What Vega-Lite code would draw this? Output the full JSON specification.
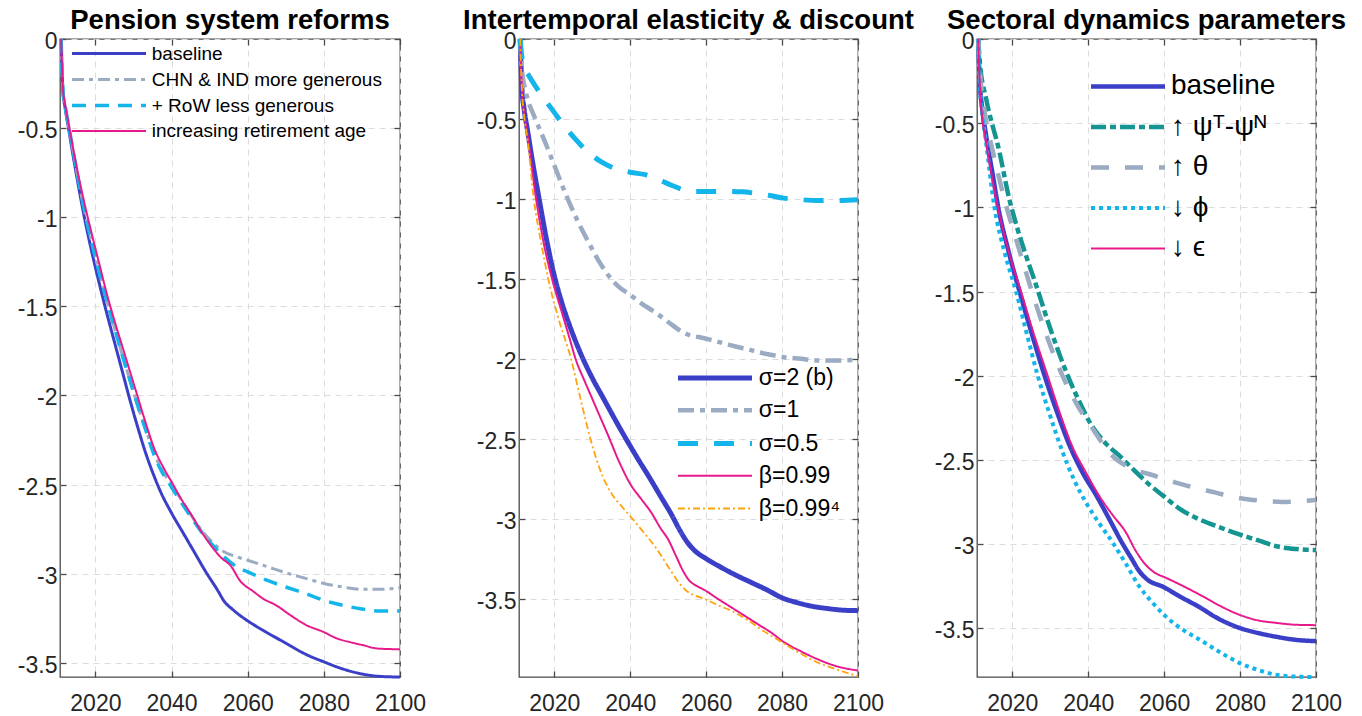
{
  "$schema": "https://vega.github.io/schema/vega-lite/v6.json",
  "background": "white",
  "padding": {"left": 16, "top": 5, "right": 5, "bottom": 5},
  "bounds": "flush",
  "spacing": 119,
  "resolve": {
    "scale": {"color": "independent", "strokeDash": "independent", "strokeWidth": "independent"},
    "legend": {"color": "independent", "strokeDash": "independent", "strokeWidth": "independent"}
  },
  "config": {
    "font": "Liberation Sans",
    "view": {"stroke": "#4a4a4a", "strokeWidth": 1.3},
    "title": {"fontSize": 27.5, "fontWeight": "bold", "color": "#000000", "offset": -3.5, "frame": "group", "anchor": "middle"},
    "axis": {
      "title": null,
      "domain": false,
      "labelFontSize": 23,
      "labelColor": "#262626",
      "labelFlush": false,
      "labelOverlap": false,
      "labelBound": false,
      "tickColor": "#4a4a4a",
      "tickWidth": 1.3,
      "tickSize": -6,
      "gridColor": "#dcdcdc",
      "gridDash": [6, 5],
      "gridWidth": 1
    },
    "axisLeft": {"labelOffset": 2.5},
    "legend": {
      "title": null,
      "orient": "none",
      "padding": 0,
      "symbolType": "M-4,0H4",
      "symbolSize": 342.25,
      "labelOffset": 31.75,
      "labelLimit": 500,
      "labelColor": "#000000",
      "symbolStrokeColor": "#000000"
    },
    "line": {"strokeCap": "butt", "strokeJoin": "round", "clip": true, "interpolate": "monotone"}
  },
  "datasets": {
    "p1": [
      {"s":"baseline","year":2011,"v":0},{"s":"baseline","year":2011.5,"v":-0.30},{"s":"baseline","year":2012,"v":-0.38},{"s":"baseline","year":2013,"v":-0.51},{"s":"baseline","year":2015,"v":-0.76},{"s":"baseline","year":2017,"v":-0.99},{"s":"baseline","year":2019,"v":-1.19},{"s":"baseline","year":2021,"v":-1.37},{"s":"baseline","year":2023,"v":-1.54},{"s":"baseline","year":2025,"v":-1.70},{"s":"baseline","year":2027,"v":-1.86},{"s":"baseline","year":2029,"v":-2.02},{"s":"baseline","year":2031,"v":-2.17},{"s":"baseline","year":2033,"v":-2.31},{"s":"baseline","year":2035,"v":-2.43},{"s":"baseline","year":2037,"v":-2.535},{"s":"baseline","year":2040,"v":-2.66},{"s":"baseline","year":2043,"v":-2.77},{"s":"baseline","year":2046,"v":-2.88},{"s":"baseline","year":2049,"v":-2.99},{"s":"baseline","year":2052,"v":-3.09},{"s":"baseline","year":2054,"v":-3.16},{"s":"baseline","year":2056,"v":-3.20},{"s":"baseline","year":2058,"v":-3.235},{"s":"baseline","year":2060,"v":-3.265},{"s":"baseline","year":2065,"v":-3.33},{"s":"baseline","year":2070,"v":-3.39},{"s":"baseline","year":2075,"v":-3.45},{"s":"baseline","year":2080,"v":-3.495},{"s":"baseline","year":2085,"v":-3.535},{"s":"baseline","year":2090,"v":-3.563},{"s":"baseline","year":2095,"v":-3.577},{"s":"baseline","year":2100,"v":-3.58},
      {"s":"CHN & IND more generous","year":2011,"v":0},{"s":"CHN & IND more generous","year":2011.5,"v":-0.30},{"s":"CHN & IND more generous","year":2012,"v":-0.37},{"s":"CHN & IND more generous","year":2013,"v":-0.49},{"s":"CHN & IND more generous","year":2015,"v":-0.73},{"s":"CHN & IND more generous","year":2017,"v":-0.95},{"s":"CHN & IND more generous","year":2019,"v":-1.14},{"s":"CHN & IND more generous","year":2021,"v":-1.31},{"s":"CHN & IND more generous","year":2023,"v":-1.47},{"s":"CHN & IND more generous","year":2025,"v":-1.62},{"s":"CHN & IND more generous","year":2027,"v":-1.77},{"s":"CHN & IND more generous","year":2029,"v":-1.91},{"s":"CHN & IND more generous","year":2031,"v":-2.05},{"s":"CHN & IND more generous","year":2033,"v":-2.18},{"s":"CHN & IND more generous","year":2035,"v":-2.30},{"s":"CHN & IND more generous","year":2037,"v":-2.40},{"s":"CHN & IND more generous","year":2040,"v":-2.50},{"s":"CHN & IND more generous","year":2043,"v":-2.60},{"s":"CHN & IND more generous","year":2046,"v":-2.70},{"s":"CHN & IND more generous","year":2048,"v":-2.76},{"s":"CHN & IND more generous","year":2051,"v":-2.83},{"s":"CHN & IND more generous","year":2054,"v":-2.88},{"s":"CHN & IND more generous","year":2057,"v":-2.905},{"s":"CHN & IND more generous","year":2060,"v":-2.925},{"s":"CHN & IND more generous","year":2065,"v":-2.96},{"s":"CHN & IND more generous","year":2070,"v":-2.995},{"s":"CHN & IND more generous","year":2075,"v":-3.025},{"s":"CHN & IND more generous","year":2080,"v":-3.055},{"s":"CHN & IND more generous","year":2085,"v":-3.075},{"s":"CHN & IND more generous","year":2090,"v":-3.088},{"s":"CHN & IND more generous","year":2095,"v":-3.088},{"s":"CHN & IND more generous","year":2100,"v":-3.078},
      {"s":"+ RoW less generous","year":2011,"v":0},{"s":"+ RoW less generous","year":2011.5,"v":-0.30},{"s":"+ RoW less generous","year":2012,"v":-0.37},{"s":"+ RoW less generous","year":2013,"v":-0.49},{"s":"+ RoW less generous","year":2015,"v":-0.73},{"s":"+ RoW less generous","year":2017,"v":-0.95},{"s":"+ RoW less generous","year":2019,"v":-1.14},{"s":"+ RoW less generous","year":2021,"v":-1.31},{"s":"+ RoW less generous","year":2023,"v":-1.47},{"s":"+ RoW less generous","year":2025,"v":-1.62},{"s":"+ RoW less generous","year":2027,"v":-1.77},{"s":"+ RoW less generous","year":2029,"v":-1.91},{"s":"+ RoW less generous","year":2031,"v":-2.05},{"s":"+ RoW less generous","year":2033,"v":-2.18},{"s":"+ RoW less generous","year":2035,"v":-2.31},{"s":"+ RoW less generous","year":2037,"v":-2.41},{"s":"+ RoW less generous","year":2040,"v":-2.515},{"s":"+ RoW less generous","year":2043,"v":-2.615},{"s":"+ RoW less generous","year":2046,"v":-2.71},{"s":"+ RoW less generous","year":2048,"v":-2.77},{"s":"+ RoW less generous","year":2051,"v":-2.845},{"s":"+ RoW less generous","year":2054,"v":-2.91},{"s":"+ RoW less generous","year":2057,"v":-2.96},{"s":"+ RoW less generous","year":2060,"v":-2.99},{"s":"+ RoW less generous","year":2065,"v":-3.037},{"s":"+ RoW less generous","year":2070,"v":-3.075},{"s":"+ RoW less generous","year":2075,"v":-3.11},{"s":"+ RoW less generous","year":2080,"v":-3.15},{"s":"+ RoW less generous","year":2085,"v":-3.178},{"s":"+ RoW less generous","year":2090,"v":-3.198},{"s":"+ RoW less generous","year":2095,"v":-3.21},{"s":"+ RoW less generous","year":2100,"v":-3.21},
      {"s":"increasing retirement age","year":2011,"v":0},{"s":"increasing retirement age","year":2011.5,"v":-0.29},{"s":"increasing retirement age","year":2012,"v":-0.36},{"s":"increasing retirement age","year":2013,"v":-0.48},{"s":"increasing retirement age","year":2015,"v":-0.71},{"s":"increasing retirement age","year":2017,"v":-0.91},{"s":"increasing retirement age","year":2019,"v":-1.09},{"s":"increasing retirement age","year":2021,"v":-1.26},{"s":"increasing retirement age","year":2023,"v":-1.43},{"s":"increasing retirement age","year":2025,"v":-1.58},{"s":"increasing retirement age","year":2027,"v":-1.72},{"s":"increasing retirement age","year":2029,"v":-1.86},{"s":"increasing retirement age","year":2031,"v":-2.0},{"s":"increasing retirement age","year":2033,"v":-2.14},{"s":"increasing retirement age","year":2035.5,"v":-2.30},{"s":"increasing retirement age","year":2038,"v":-2.41},{"s":"increasing retirement age","year":2040,"v":-2.485},{"s":"increasing retirement age","year":2042.5,"v":-2.58},{"s":"increasing retirement age","year":2045,"v":-2.663},{"s":"increasing retirement age","year":2048,"v":-2.77},{"s":"increasing retirement age","year":2051,"v":-2.86},{"s":"increasing retirement age","year":2053,"v":-2.91},{"s":"increasing retirement age","year":2055.5,"v":-2.955},{"s":"increasing retirement age","year":2058,"v":-3.04},{"s":"increasing retirement age","year":2061.5,"v":-3.10},{"s":"increasing retirement age","year":2064,"v":-3.14},{"s":"increasing retirement age","year":2067.5,"v":-3.178},{"s":"increasing retirement age","year":2071,"v":-3.23},{"s":"increasing retirement age","year":2075.5,"v":-3.29},{"s":"increasing retirement age","year":2080,"v":-3.328},{"s":"increasing retirement age","year":2083,"v":-3.36},{"s":"increasing retirement age","year":2087,"v":-3.385},{"s":"increasing retirement age","year":2090,"v":-3.40},{"s":"increasing retirement age","year":2094,"v":-3.42},{"s":"increasing retirement age","year":2097,"v":-3.423},{"s":"increasing retirement age","year":2100,"v":-3.425}
    ],
    "p2": [
      {"s":"σ=2 (b)","year":2011,"v":0},{"s":"σ=2 (b)","year":2011.5,"v":-0.32},{"s":"σ=2 (b)","year":2012,"v":-0.43},{"s":"σ=2 (b)","year":2013,"v":-0.58},{"s":"σ=2 (b)","year":2014.5,"v":-0.80},{"s":"σ=2 (b)","year":2016,"v":-1.0},{"s":"σ=2 (b)","year":2018,"v":-1.26},{"s":"σ=2 (b)","year":2020,"v":-1.48},{"s":"σ=2 (b)","year":2022,"v":-1.65},{"s":"σ=2 (b)","year":2024,"v":-1.79},{"s":"σ=2 (b)","year":2027,"v":-1.97},{"s":"σ=2 (b)","year":2030,"v":-2.12},{"s":"σ=2 (b)","year":2033,"v":-2.25},{"s":"σ=2 (b)","year":2036,"v":-2.38},{"s":"σ=2 (b)","year":2039,"v":-2.505},{"s":"σ=2 (b)","year":2042,"v":-2.625},{"s":"σ=2 (b)","year":2045,"v":-2.74},{"s":"σ=2 (b)","year":2048,"v":-2.86},{"s":"σ=2 (b)","year":2051,"v":-2.98},{"s":"σ=2 (b)","year":2053,"v":-3.07},{"s":"σ=2 (b)","year":2055,"v":-3.146},{"s":"σ=2 (b)","year":2057,"v":-3.20},{"s":"σ=2 (b)","year":2060,"v":-3.25},{"s":"σ=2 (b)","year":2064,"v":-3.305},{"s":"σ=2 (b)","year":2068,"v":-3.355},{"s":"σ=2 (b)","year":2072,"v":-3.40},{"s":"σ=2 (b)","year":2076,"v":-3.445},{"s":"σ=2 (b)","year":2080,"v":-3.495},{"s":"σ=2 (b)","year":2084,"v":-3.525},{"s":"σ=2 (b)","year":2088,"v":-3.548},{"s":"σ=2 (b)","year":2092,"v":-3.562},{"s":"σ=2 (b)","year":2096,"v":-3.572},{"s":"σ=2 (b)","year":2100,"v":-3.575},
      {"s":"σ=1","year":2011,"v":0},{"s":"σ=1","year":2011.5,"v":-0.20},{"s":"σ=1","year":2012.5,"v":-0.33},{"s":"σ=1","year":2015,"v":-0.50},{"s":"σ=1","year":2017.5,"v":-0.64},{"s":"σ=1","year":2020,"v":-0.79},{"s":"σ=1","year":2023,"v":-0.97},{"s":"σ=1","year":2026,"v":-1.13},{"s":"σ=1","year":2029,"v":-1.27},{"s":"σ=1","year":2031.5,"v":-1.38},{"s":"σ=1","year":2034.3,"v":-1.48},{"s":"σ=1","year":2037,"v":-1.55},{"s":"σ=1","year":2040,"v":-1.60},{"s":"σ=1","year":2043,"v":-1.655},{"s":"σ=1","year":2046.6,"v":-1.71},{"s":"σ=1","year":2050,"v":-1.77},{"s":"σ=1","year":2053.6,"v":-1.83},{"s":"σ=1","year":2056,"v":-1.855},{"s":"σ=1","year":2058,"v":-1.864},{"s":"σ=1","year":2061,"v":-1.88},{"s":"σ=1","year":2065,"v":-1.906},{"s":"σ=1","year":2068,"v":-1.925},{"s":"σ=1","year":2071,"v":-1.94},{"s":"σ=1","year":2074,"v":-1.96},{"s":"σ=1","year":2077,"v":-1.975},{"s":"σ=1","year":2080.5,"v":-1.99},{"s":"σ=1","year":2085,"v":-2.0},{"s":"σ=1","year":2089,"v":-2.01},{"s":"σ=1","year":2095,"v":-2.01},{"s":"σ=1","year":2100,"v":-2.005},
      {"s":"σ=0.5","year":2011,"v":0},{"s":"σ=0.5","year":2011.5,"v":-0.12},{"s":"σ=0.5","year":2012.3,"v":-0.19},{"s":"σ=0.5","year":2013.3,"v":-0.23},{"s":"σ=0.5","year":2016,"v":-0.33},{"s":"σ=0.5","year":2019.4,"v":-0.44},{"s":"σ=0.5","year":2022.5,"v":-0.54},{"s":"σ=0.5","year":2025.5,"v":-0.625},{"s":"σ=0.5","year":2029,"v":-0.71},{"s":"σ=0.5","year":2032.5,"v":-0.77},{"s":"σ=0.5","year":2036,"v":-0.81},{"s":"σ=0.5","year":2040,"v":-0.833},{"s":"σ=0.5","year":2044.9,"v":-0.854},{"s":"σ=0.5","year":2048,"v":-0.885},{"s":"σ=0.5","year":2051,"v":-0.916},{"s":"σ=0.5","year":2053.5,"v":-0.94},{"s":"σ=0.5","year":2055.4,"v":-0.954},{"s":"σ=0.5","year":2060,"v":-0.954},{"s":"σ=0.5","year":2065,"v":-0.953},{"s":"σ=0.5","year":2069.4,"v":-0.956},{"s":"σ=0.5","year":2073,"v":-0.965},{"s":"σ=0.5","year":2076.9,"v":-0.979},{"s":"σ=0.5","year":2080.4,"v":-0.995},{"s":"σ=0.5","year":2085,"v":-1.005},{"s":"σ=0.5","year":2089.2,"v":-1.01},{"s":"σ=0.5","year":2095,"v":-1.01},{"s":"σ=0.5","year":2100,"v":-1.005},
      {"s":"β=0.99","year":2011,"v":0},{"s":"β=0.99","year":2011.5,"v":-0.33},{"s":"β=0.99","year":2012,"v":-0.45},{"s":"β=0.99","year":2013,"v":-0.61},{"s":"β=0.99","year":2015.2,"v":-1.0},{"s":"β=0.99","year":2017,"v":-1.25},{"s":"β=0.99","year":2019.4,"v":-1.5},{"s":"β=0.99","year":2022,"v":-1.71},{"s":"β=0.99","year":2024,"v":-1.87},{"s":"β=0.99","year":2025.6,"v":-2.0},{"s":"β=0.99","year":2028,"v":-2.14},{"s":"β=0.99","year":2030,"v":-2.25},{"s":"β=0.99","year":2032,"v":-2.36},{"s":"β=0.99","year":2034.2,"v":-2.48},{"s":"β=0.99","year":2037,"v":-2.64},{"s":"β=0.99","year":2040.2,"v":-2.79},{"s":"β=0.99","year":2043,"v":-2.88},{"s":"β=0.99","year":2045.5,"v":-2.96},{"s":"β=0.99","year":2048,"v":-3.06},{"s":"β=0.99","year":2050,"v":-3.13},{"s":"β=0.99","year":2052,"v":-3.23},{"s":"β=0.99","year":2054,"v":-3.33},{"s":"β=0.99","year":2055.5,"v":-3.385},{"s":"β=0.99","year":2057.5,"v":-3.42},{"s":"β=0.99","year":2059.5,"v":-3.445},{"s":"β=0.99","year":2063,"v":-3.50},{"s":"β=0.99","year":2067,"v":-3.56},{"s":"β=0.99","year":2071,"v":-3.62},{"s":"β=0.99","year":2074.3,"v":-3.67},{"s":"β=0.99","year":2077,"v":-3.71},{"s":"β=0.99","year":2080.4,"v":-3.77},{"s":"β=0.99","year":2085,"v":-3.83},{"s":"β=0.99","year":2089,"v":-3.875},{"s":"β=0.99","year":2094,"v":-3.92},{"s":"β=0.99","year":2100,"v":-3.95},
      {"s":"β=0.99⁴","year":2011,"v":0},{"s":"β=0.99⁴","year":2011.5,"v":-0.34},{"s":"β=0.99⁴","year":2012,"v":-0.47},{"s":"β=0.99⁴","year":2013,"v":-0.64},{"s":"β=0.99⁴","year":2014.6,"v":-1.0},{"s":"β=0.99⁴","year":2016.5,"v":-1.27},{"s":"β=0.99⁴","year":2018.4,"v":-1.5},{"s":"β=0.99⁴","year":2021,"v":-1.74},{"s":"β=0.99⁴","year":2024.4,"v":-2.0},{"s":"β=0.99⁴","year":2027,"v":-2.26},{"s":"β=0.99⁴","year":2029.5,"v":-2.5},{"s":"β=0.99⁴","year":2032,"v":-2.69},{"s":"β=0.99⁴","year":2035,"v":-2.84},{"s":"β=0.99⁴","year":2038,"v":-2.93},{"s":"β=0.99⁴","year":2040.2,"v":-2.99},{"s":"β=0.99⁴","year":2043,"v":-3.07},{"s":"β=0.99⁴","year":2047,"v":-3.19},{"s":"β=0.99⁴","year":2050,"v":-3.30},{"s":"β=0.99⁴","year":2052.5,"v":-3.39},{"s":"β=0.99⁴","year":2054.5,"v":-3.445},{"s":"β=0.99⁴","year":2057,"v":-3.48},{"s":"β=0.99⁴","year":2059.5,"v":-3.50},{"s":"β=0.99⁴","year":2063,"v":-3.54},{"s":"β=0.99⁴","year":2067,"v":-3.58},{"s":"β=0.99⁴","year":2071,"v":-3.635},{"s":"β=0.99⁴","year":2074.3,"v":-3.69},{"s":"β=0.99⁴","year":2077,"v":-3.73},{"s":"β=0.99⁴","year":2080.4,"v":-3.78},{"s":"β=0.99⁴","year":2085,"v":-3.845},{"s":"β=0.99⁴","year":2089,"v":-3.896},{"s":"β=0.99⁴","year":2094,"v":-3.94},{"s":"β=0.99⁴","year":2100,"v":-3.985}
    ],
    "p3": [
      {"s":"baseline","year":2011,"v":0},{"s":"baseline","year":2011.5,"v":-0.28},{"s":"baseline","year":2012,"v":-0.40},{"s":"baseline","year":2013,"v":-0.56},{"s":"baseline","year":2014.8,"v":-0.80},{"s":"baseline","year":2016.3,"v":-1.0},{"s":"baseline","year":2019,"v":-1.26},{"s":"baseline","year":2021.9,"v":-1.5},{"s":"baseline","year":2025,"v":-1.74},{"s":"baseline","year":2028.5,"v":-2.0},{"s":"baseline","year":2032,"v":-2.23},{"s":"baseline","year":2035,"v":-2.41},{"s":"baseline","year":2038.5,"v":-2.575},{"s":"baseline","year":2042.2,"v":-2.714},{"s":"baseline","year":2045.5,"v":-2.85},{"s":"baseline","year":2049,"v":-2.996},{"s":"baseline","year":2051.5,"v":-3.09},{"s":"baseline","year":2053.4,"v":-3.16},{"s":"baseline","year":2055.5,"v":-3.21},{"s":"baseline","year":2059.8,"v":-3.255},{"s":"baseline","year":2064,"v":-3.31},{"s":"baseline","year":2069.3,"v":-3.375},{"s":"baseline","year":2074,"v":-3.44},{"s":"baseline","year":2079.8,"v":-3.498},{"s":"baseline","year":2085,"v":-3.53},{"s":"baseline","year":2089.3,"v":-3.55},{"s":"baseline","year":2095,"v":-3.57},{"s":"baseline","year":2100,"v":-3.577},
      {"s":"↑ ψᵀ-ψᴺ","year":2011,"v":0},{"s":"↑ ψᵀ-ψᴺ","year":2011.5,"v":-0.15},{"s":"↑ ψᵀ-ψᴺ","year":2013.1,"v":-0.354},{"s":"↑ ψᵀ-ψᴺ","year":2016.6,"v":-0.67},{"s":"↑ ψᵀ-ψᴺ","year":2019.2,"v":-0.95},{"s":"↑ ψᵀ-ψᴺ","year":2021,"v":-1.10},{"s":"↑ ψᵀ-ψᴺ","year":2023.5,"v":-1.28},{"s":"↑ ψᵀ-ψᴺ","year":2025.8,"v":-1.43},{"s":"↑ ψᵀ-ψᴺ","year":2030,"v":-1.72},{"s":"↑ ψᵀ-ψᴺ","year":2034.6,"v":-2.0},{"s":"↑ ψᵀ-ψᴺ","year":2038,"v":-2.17},{"s":"↑ ψᵀ-ψᴺ","year":2041,"v":-2.30},{"s":"↑ ψᵀ-ψᴺ","year":2044.5,"v":-2.40},{"s":"↑ ψᵀ-ψᴺ","year":2048.4,"v":-2.48},{"s":"↑ ψᵀ-ψᴺ","year":2053.4,"v":-2.59},{"s":"↑ ψᵀ-ψᴺ","year":2056.5,"v":-2.655},{"s":"↑ ψᵀ-ψᴺ","year":2059.8,"v":-2.714},{"s":"↑ ψᵀ-ψᴺ","year":2064,"v":-2.79},{"s":"↑ ψᵀ-ψᴺ","year":2069.3,"v":-2.854},{"s":"↑ ψᵀ-ψᴺ","year":2074.5,"v":-2.90},{"s":"↑ ψᵀ-ψᴺ","year":2079.8,"v":-2.943},{"s":"↑ ψᵀ-ψᴺ","year":2085,"v":-2.98},{"s":"↑ ψᵀ-ψᴺ","year":2089.3,"v":-3.012},{"s":"↑ ψᵀ-ψᴺ","year":2095,"v":-3.03},{"s":"↑ ψᵀ-ψᴺ","year":2100,"v":-3.036},
      {"s":"↑ θ","year":2011,"v":0},{"s":"↑ θ","year":2011.5,"v":-0.2},{"s":"↑ θ","year":2012.7,"v":-0.43},{"s":"↑ θ","year":2015,"v":-0.68},{"s":"↑ θ","year":2018.5,"v":-1.0},{"s":"↑ θ","year":2021,"v":-1.19},{"s":"↑ θ","year":2023.8,"v":-1.4},{"s":"↑ θ","year":2026,"v":-1.56},{"s":"↑ θ","year":2029,"v":-1.76},{"s":"↑ θ","year":2033.2,"v":-2.0},{"s":"↑ θ","year":2037,"v":-2.17},{"s":"↑ θ","year":2041,"v":-2.31},{"s":"↑ θ","year":2044,"v":-2.41},{"s":"↑ θ","year":2047,"v":-2.49},{"s":"↑ θ","year":2050,"v":-2.535},{"s":"↑ θ","year":2053,"v":-2.565},{"s":"↑ θ","year":2056.9,"v":-2.59},{"s":"↑ θ","year":2060,"v":-2.615},{"s":"↑ θ","year":2063.1,"v":-2.635},{"s":"↑ θ","year":2068,"v":-2.665},{"s":"↑ θ","year":2073.6,"v":-2.695},{"s":"↑ θ","year":2078,"v":-2.72},{"s":"↑ θ","year":2082.3,"v":-2.735},{"s":"↑ θ","year":2087,"v":-2.745},{"s":"↑ θ","year":2091,"v":-2.75},{"s":"↑ θ","year":2096,"v":-2.745},{"s":"↑ θ","year":2100,"v":-2.738},
      {"s":"↓ ϕ","year":2011,"v":0},{"s":"↓ ϕ","year":2011.5,"v":-0.30},{"s":"↓ ϕ","year":2012,"v":-0.43},{"s":"↓ ϕ","year":2013,"v":-0.60},{"s":"↓ ϕ","year":2015.3,"v":-1.0},{"s":"↓ ϕ","year":2018,"v":-1.27},{"s":"↓ ϕ","year":2021,"v":-1.5},{"s":"↓ ϕ","year":2023.8,"v":-1.75},{"s":"↓ ϕ","year":2026.7,"v":-2.0},{"s":"↓ ϕ","year":2030,"v":-2.24},{"s":"↓ ϕ","year":2033.3,"v":-2.457},{"s":"↓ ϕ","year":2036.3,"v":-2.62},{"s":"↓ ϕ","year":2039.4,"v":-2.754},{"s":"↓ ϕ","year":2043,"v":-2.88},{"s":"↓ ϕ","year":2046.4,"v":-2.99},{"s":"↓ ϕ","year":2050,"v":-3.12},{"s":"↓ ϕ","year":2053.4,"v":-3.25},{"s":"↓ ϕ","year":2057,"v":-3.35},{"s":"↓ ϕ","year":2060.4,"v":-3.43},{"s":"↓ ϕ","year":2065,"v":-3.51},{"s":"↓ ϕ","year":2069.3,"v":-3.567},{"s":"↓ ϕ","year":2074.5,"v":-3.64},{"s":"↓ ϕ","year":2079.8,"v":-3.706},{"s":"↓ ϕ","year":2085,"v":-3.75},{"s":"↓ ϕ","year":2089.3,"v":-3.776},{"s":"↓ ϕ","year":2095,"v":-3.788},{"s":"↓ ϕ","year":2100,"v":-3.79},
      {"s":"↓ ϵ","year":2011,"v":0},{"s":"↓ ϵ","year":2011.5,"v":-0.30},{"s":"↓ ϵ","year":2012,"v":-0.45},{"s":"↓ ϵ","year":2013,"v":-0.60},{"s":"↓ ϵ","year":2014.8,"v":-0.84},{"s":"↓ ϵ","year":2016.2,"v":-1.0},{"s":"↓ ϵ","year":2019,"v":-1.26},{"s":"↓ ϵ","year":2022.3,"v":-1.5},{"s":"↓ ϵ","year":2025.5,"v":-1.74},{"s":"↓ ϵ","year":2029.3,"v":-2.0},{"s":"↓ ϵ","year":2032.5,"v":-2.22},{"s":"↓ ϵ","year":2035.8,"v":-2.42},{"s":"↓ ϵ","year":2039.5,"v":-2.58},{"s":"↓ ϵ","year":2042.9,"v":-2.714},{"s":"↓ ϵ","year":2046.5,"v":-2.83},{"s":"↓ ϵ","year":2049.9,"v":-2.93},{"s":"↓ ϵ","year":2052.5,"v":-3.04},{"s":"↓ ϵ","year":2055.2,"v":-3.125},{"s":"↓ ϵ","year":2057.5,"v":-3.17},{"s":"↓ ϵ","year":2060.4,"v":-3.20},{"s":"↓ ϵ","year":2065,"v":-3.25},{"s":"↓ ϵ","year":2069.3,"v":-3.30},{"s":"↓ ϵ","year":2074.5,"v":-3.365},{"s":"↓ ϵ","year":2079.8,"v":-3.42},{"s":"↓ ϵ","year":2085,"v":-3.455},{"s":"↓ ϵ","year":2089.3,"v":-3.468},{"s":"↓ ϵ","year":2095,"v":-3.48},{"s":"↓ ϵ","year":2100,"v":-3.482}
    ]
  },
  "hconcat": [
    {
      "title": "Pension system reforms",
      "width": 340, "height": 638,
      "data": {"name": "p1"},
      "layer": [
        {
          "mark": {"type": "line"},
          "encoding": {
            "x": {"field": "year", "type": "quantitative", "scale": {"domain": [2010.7, 2100], "nice": false, "zero": false},
                  "axis": {"orient": "bottom", "values": [2020, 2040, 2060, 2080, 2100], "format": "d", "grid": true, "labelPadding": 21}},
            "y": {"field": "v", "type": "quantitative", "scale": {"domain": [-3.58, 0], "nice": false, "zero": false},
                  "axis": {"orient": "left", "values": [0, -0.5, -1, -1.5, -2, -2.5, -3, -3.5], "labelExpr": "'' + datum.value", "labelFlush": false, "grid": true, "labelPadding": 9}},
            "color": {"field": "s", "type": "nominal",
                      "scale": {"domain": ["baseline", "CHN & IND more generous", "+ RoW less generous", "increasing retirement age"], "range": ["#3b3fc8", "#9babc2", "#14b5ea", "#e8198b"]},
                      "legend": {"legendX": 38, "legendY": 3.5, "labelFontSize": 19, "rowPadding": 5}},
            "strokeDash": {"field": "s", "type": "nominal",
                           "scale": {"domain": ["baseline", "CHN & IND more generous", "+ RoW less generous", "increasing retirement age"], "range": [[1, 0], [12, 5, 4, 5], [14, 9], [1, 0]]}},
            "strokeWidth": {"field": "s", "type": "nominal",
                            "scale": {"type": "ordinal", "domain": ["baseline", "CHN & IND more generous", "+ RoW less generous", "increasing retirement age"], "range": [3, 3, 3.5, 2]}}
          }
        },
        {
          "mark": {"type": "point", "opacity": 0},
          "encoding": {
            "x": {"field": "year", "type": "quantitative", "axis": {"orient": "top", "values": [2020, 2040, 2060, 2080, 2100], "labels": false, "grid": false}},
            "y": {"field": "v", "type": "quantitative", "axis": {"orient": "right", "values": [0, -0.5, -1, -1.5, -2, -2.5, -3, -3.5], "labels": false, "grid": false}}
          }
        }
      ],
      "resolve": {"axis": {"x": "independent", "y": "independent"}}
    },
    {
      "title": "Intertemporal elasticity & discount",
      "width": 339, "height": 638,
      "data": {"name": "p2"},
      "layer": [
        {
          "mark": {"type": "line"},
          "encoding": {
            "x": {"field": "year", "type": "quantitative", "scale": {"domain": [2010.7, 2100], "nice": false, "zero": false},
                  "axis": {"orient": "bottom", "values": [2020, 2040, 2060, 2080, 2100], "format": "d", "grid": true, "labelPadding": 21}},
            "y": {"field": "v", "type": "quantitative", "scale": {"domain": [-3.99, 0], "nice": false, "zero": false},
                  "axis": {"orient": "left", "values": [0, -0.5, -1, -1.5, -2, -2.5, -3, -3.5], "labelExpr": "'' + datum.value", "labelFlush": false, "grid": true, "labelPadding": 9}},
            "color": {"field": "s", "type": "nominal",
                      "scale": {"domain": ["σ=2 (b)", "σ=1", "σ=0.5", "β=0.99", "β=0.99⁴"], "range": ["#3b3fc8", "#9babc2", "#14b5ea", "#e8198b", "#fda50f"]},
                      "legend": {"legendX": 184, "legendY": 327, "labelFontSize": 23, "rowPadding": 8.75}},
            "strokeDash": {"field": "s", "type": "nominal",
                           "scale": {"domain": ["σ=2 (b)", "σ=1", "σ=0.5", "β=0.99", "β=0.99⁴"], "range": [[1, 0], [16, 6, 5, 6], [20, 16], [1, 0], [7, 3, 2, 3]]}},
            "strokeWidth": {"field": "s", "type": "nominal",
                            "scale": {"type": "ordinal", "domain": ["σ=2 (b)", "σ=1", "σ=0.5", "β=0.99", "β=0.99⁴"], "range": [5, 4.5, 5, 2, 1.8]}}
          }
        },
        {
          "mark": {"type": "point", "opacity": 0},
          "encoding": {
            "x": {"field": "year", "type": "quantitative", "axis": {"orient": "top", "values": [2020, 2040, 2060, 2080, 2100], "labels": false, "grid": false}},
            "y": {"field": "v", "type": "quantitative", "axis": {"orient": "right", "values": [0, -0.5, -1, -1.5, -2, -2.5, -3, -3.5], "labels": false, "grid": false}}
          }
        }
      ],
      "resolve": {"axis": {"x": "independent", "y": "independent"}}
    },
    {
      "title": "Sectoral dynamics parameters",
      "width": 339, "height": 638,
      "data": {"name": "p3"},
      "layer": [
        {
          "mark": {"type": "line"},
          "encoding": {
            "x": {"field": "year", "type": "quantitative", "scale": {"domain": [2010.7, 2100], "nice": false, "zero": false},
                  "axis": {"orient": "bottom", "values": [2020, 2040, 2060, 2080, 2100], "format": "d", "grid": true, "labelPadding": 21}},
            "y": {"field": "v", "type": "quantitative", "scale": {"domain": [-3.79, 0], "nice": false, "zero": false},
                  "axis": {"orient": "left", "values": [0, -0.5, -1, -1.5, -2, -2.5, -3, -3.5], "labelExpr": "'' + datum.value", "labelFlush": false, "grid": true, "labelPadding": 9}},
            "color": {"field": "s", "type": "nominal",
                      "scale": {"domain": ["baseline", "↑ ψᵀ-ψᴺ", "↑ θ", "↓ ϕ", "↓ ϵ"], "range": ["#3b3fc8", "#149591", "#9babc2", "#14b5ea", "#e8198b"]},
                      "legend": {"legendX": 137, "legendY": 33.4, "labelFontSize": 28, "labelOffset": 29, "rowPadding": 12.5}},
            "strokeDash": {"field": "s", "type": "nominal",
                           "scale": {"domain": ["baseline", "↑ ψᵀ-ψᴺ", "↑ θ", "↓ ϕ", "↓ ϵ"], "range": [[1, 0], [15, 4, 6, 4], [18, 16], [4, 4], [1, 0]]}},
            "strokeWidth": {"field": "s", "type": "nominal",
                            "scale": {"type": "ordinal", "domain": ["baseline", "↑ ψᵀ-ψᴺ", "↑ θ", "↓ ϕ", "↓ ϵ"], "range": [4.5, 4.5, 4.5, 4, 2]}}
          }
        },
        {
          "mark": {"type": "point", "opacity": 0},
          "encoding": {
            "x": {"field": "year", "type": "quantitative", "axis": {"orient": "top", "values": [2020, 2040, 2060, 2080, 2100], "labels": false, "grid": false}},
            "y": {"field": "v", "type": "quantitative", "axis": {"orient": "right", "values": [0, -0.5, -1, -1.5, -2, -2.5, -3, -3.5], "labels": false, "grid": false}}
          }
        }
      ],
      "resolve": {"axis": {"x": "independent", "y": "independent"}}
    }
  ]
}
